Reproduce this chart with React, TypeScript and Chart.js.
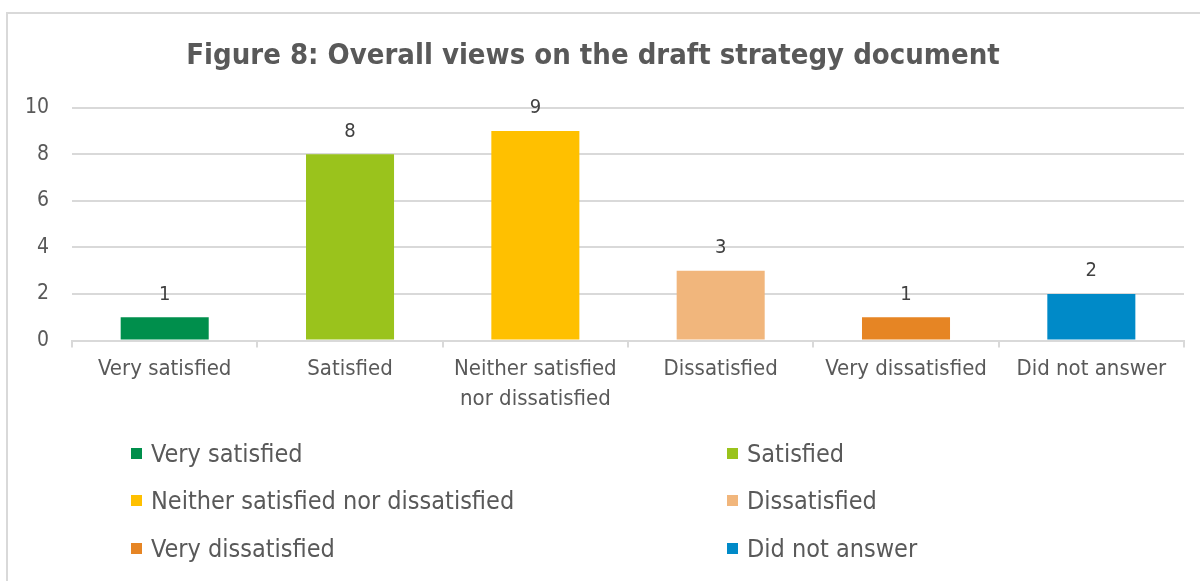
import React, { useEffect, useRef } from "react";
import { Chart, registerables } from "chart.js";

Chart.register(...registerables);

const categories: (string | string[])[] = [
  "Very satisfied",
  "Satisfied",
  ["Neither satisfied", "nor dissatisfied"],
  "Dissatisfied",
  "Very dissatisfied",
  "Did not answer",
];
const legendLabels = [
  "Very satisfied",
  "Satisfied",
  "Neither satisfied nor dissatisfied",
  "Dissatisfied",
  "Very dissatisfied",
  "Did not answer",
];
const values = [1, 8, 9, 3, 1, 2];
const colors = ["#008F4C", "#9AC31C", "#FFC000", "#F1B67C", "#E68524", "#008AC8"];
const yTicks = [0, 2, 4, 6, 8, 10];
const title = "Figure 8: Overall views on the draft strategy document";

const FONT = "'DejaVu Sans Condensed', 'Liberation Sans', sans-serif";
const TEXT = "#595959";
const GRID = "#d9d9d9";

const dataLabelPlugin = {
  id: "dataLabels",
  afterDatasetsDraw(chart: any) {
    const ctx = chart.ctx;
    const meta = chart.getDatasetMeta(0);
    ctx.save();
    ctx.font = `20px ${FONT}`;
    ctx.fillStyle = "#404040";
    ctx.textAlign = "center";
    ctx.textBaseline = "bottom";
    meta.data.forEach((bar: any, i: number) => {
      ctx.fillText(String(values[i]), bar.x, bar.y - 13);
    });
    ctx.restore();
  },
};

export default function App() {
  const ref = useRef<HTMLCanvasElement | null>(null);
  useEffect(() => {
    document.body.style.margin = "0";
    if (!ref.current) return;
    const chart = new Chart(ref.current, {
      type: "bar",
      data: {
        labels: categories,
        datasets: [
          {
            data: values,
            backgroundColor: colors,
            categoryPercentage: 1,
            barPercentage: 0.475,
          },
        ],
      },
      options: {
        animation: false,
        responsive: false,
        maintainAspectRatio: false,
        layout: { padding: { left: 2, right: 16, top: 0, bottom: 160 } },
        plugins: {
          legend: { display: false },
          tooltip: { enabled: false },
          title: {
            display: true,
            text: title,
            color: TEXT,
            font: { family: FONT, size: 29, weight: "bold" },
            padding: { top: 39, bottom: 34 },
          },
        },
        scales: {
          x: {
            afterFit(axis: any) {
              axis.paddingLeft = 0;
              axis.paddingRight = 0;
            },
            grid: {
              display: true,
              drawOnChartArea: false,
              drawTicks: true,
              tickLength: 7,
              color: GRID,
              lineWidth: 2,
              offset: true,
            },
            border: { display: true, color: GRID, width: 2 },
            ticks: {
              color: TEXT,
              font: { family: FONT, size: 22, lineHeight: 1.35 },
              padding: 7,
              maxRotation: 0,
              autoSkip: false,
            },
          },
          y: {
            min: 0,
            max: 10,
            afterBuildTicks(axis: any) {
              axis.ticks = yTicks.map((v) => ({ value: v }));
            },
            grid: { color: GRID, lineWidth: 2, drawTicks: false },
            border: { display: false },
            ticks: {
              color: TEXT,
              font: { family: FONT, size: 21 },
              padding: 23,
            },
          },
        },
      },
      plugins: [dataLabelPlugin],
    });
    return () => chart.destroy();
  }, []);

  return (
    <div style={{ position: "relative", width: 1200, height: 581, overflow: "hidden", background: "#fff" }}>
      <div
        style={{
          position: "absolute",
          left: 6,
          top: 12,
          width: 1210,
          height: 620,
          border: `2px solid ${GRID}`,
          boxSizing: "border-box",
        }}
      />
      <canvas ref={ref} width={1200} height={581} style={{ position: "absolute", left: 0, top: 0 }} />
      {legendLabels.map((lab, i) => {
        const col = i % 2;
        const row = Math.floor(i / 2);
        const left = col === 0 ? 131 : 727;
        const top = [453, 500, 548][row];
        return (
          <div
            key={lab}
            style={{
              position: "absolute",
              left,
              top: top - 18,
              height: 36,
              display: "flex",
              alignItems: "center",
              fontFamily: FONT,
              fontSize: 25,
              color: TEXT,
              whiteSpace: "nowrap",
            }}
          >
            <span style={{ display: "inline-block", width: 11, height: 11, background: colors[i], marginRight: 9 }} />
            {lab}
          </div>
        );
      })}
    </div>
  );
}
